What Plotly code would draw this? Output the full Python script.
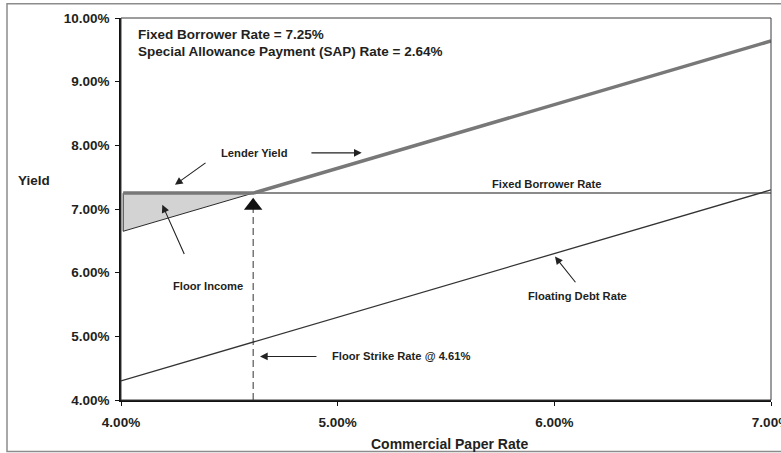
import plotly.graph_objects as go

# ---- data (percent units) ----
fixed_rate = 7.25
sap_rate = 2.64
strike = 4.61

fixed_x = [4.01, 7.0]
fixed_y = [7.25, 7.25]

lender_x = [4.01, 4.61, 7.0]
lender_y = [7.25, 7.25, 9.64]

floor_x = [4.01, 4.01, 4.61]
floor_y = [7.25, 6.65, 7.25]

floating_x = [4.0, 7.0]
floating_y = [4.30, 7.30]

strike_x = [4.61, 4.61]
strike_y = [4.0, 7.0]

marker_x = [4.61]
marker_y = [7.05]

x_ticks = [4, 5, 6, 7]
x_tick_labels = ["4.00%", "5.00%", "6.00%", "7.00%"]
y_ticks = [4, 5, 6, 7, 8, 9, 10]
y_tick_labels = ["4.00%", "5.00%", "6.00%", "7.00%", "8.00%", "9.00%", "10.00%"]

FONT = "Liberation Sans, Arial, Helvetica, sans-serif"
TXT = "#231f20"

fig = go.Figure()

fig.add_trace(go.Scatter(x=fixed_x, y=fixed_y, mode="lines",
                         line=dict(color="#8a8a8a", width=2), hoverinfo="skip"))
fig.add_trace(go.Scatter(x=floor_x, y=floor_y, mode="lines", fill="toself",
                         fillcolor="#d3d3d3", line=dict(color="#2a2a2a", width=1),
                         hoverinfo="skip"))
fig.add_trace(go.Scatter(x=lender_x, y=lender_y, mode="lines",
                         line=dict(color="#787878", width=3.5), hoverinfo="skip"))
fig.add_trace(go.Scatter(x=floating_x, y=floating_y, mode="lines",
                         line=dict(color="#333333", width=1.3), hoverinfo="skip"))
fig.add_trace(go.Scatter(x=strike_x, y=strike_y, mode="lines",
                         line=dict(color="#333333", width=1, dash="7px,4px"), hoverinfo="skip"))
fig.add_trace(go.Scatter(x=marker_x, y=marker_y, mode="markers",
                         marker=dict(symbol="triangle-up", size=16, color="#111111"),
                         hoverinfo="skip"))

ann_font = dict(family=FONT, size=11.2, color=TXT, weight="bold")
big_font = dict(family=FONT, size=13.5, color=TXT, weight="bold")

annotations = [
    dict(x=4.068, y=9.735, text="Fixed Borrower Rate = 7.25%", xanchor="left", font=big_font),
    dict(x=4.068, y=9.474, text="Special Allowance Payment (SAP) Rate = 2.64%", xanchor="left", font=big_font),
    dict(x=4.616, y=7.882, text="Lender Yield", font=ann_font),
    dict(x=4.4015, y=5.783, text="Floor Income", font=ann_font),
    dict(x=5.292, y=4.684, text="Floor Strike Rate @ 4.61%", font=ann_font),
    dict(x=6.108, y=5.637, text="Floating Debt Rate", font=ann_font),
    dict(x=5.966, y=7.391, text="Fixed Borrower Rate", font=ann_font),
]
for a in annotations:
    a.update(xref="x", yref="y", showarrow=False)

arrows = [
    (5.111, 7.882, 4.872, 7.882),
    (4.249, 7.380, 4.397, 7.741),
    (4.1906, 7.066, 4.295, 6.270),
    (4.6415, 4.684, 4.909, 4.684),
    (6.003, 6.254, 6.103, 5.826),
]
for hx, hy, tx, ty in arrows:
    annotations.append(dict(x=hx, y=hy, ax=tx, ay=ty, xref="x", yref="y",
                            axref="x", ayref="y", text="", showarrow=True,
                            arrowhead=2, arrowsize=1.4, arrowwidth=1.1,
                            arrowcolor="#222222"))

annotations.append(dict(x=(34 - 121) / 650, y=7.455, xref="paper", yref="y",
                        xanchor="center", yanchor="middle",
                        text="Yield", showarrow=False,
                        font=dict(family=FONT, size=13.5, color=TXT, weight="bold")))
annotations.append(dict(x=(449 - 121) / 650, y=(400.3 - 444) / 382, xref="paper", yref="paper",
                        xanchor="center", yanchor="middle",
                        text="Commercial Paper Rate", showarrow=False,
                        font=dict(family=FONT, size=14, color=TXT, weight="bold")))

fig.update_layout(
    width=781, height=453,
    margin=dict(l=121, r=10, t=18, b=53),
    paper_bgcolor="white", plot_bgcolor="white",
    showlegend=False,
    annotations=annotations,
    shapes=[
        dict(type="rect", xref="paper", yref="paper", x0=0, x1=1, y0=0, y1=1,
             line=dict(color="#3a3a3a", width=1)),
        dict(type="rect", xref="paper", yref="paper",
             x0=(7 - 121) / 650, x1=1.08,
             y0=(400.3 - 451.7) / 382, y1=(400.3 - 4) / 382,
             line=dict(color="#8c8c8c", width=1.5)),
    ],
)
fig.update_xaxes(range=[4, 7], tickvals=x_ticks, ticktext=x_tick_labels,
                 showgrid=False, zeroline=False, showline=True, linecolor="#111111",
                 linewidth=1.5, ticks="outside", ticklen=4, tickcolor="#111111",
                 tickfont=dict(family=FONT, size=13.5, color=TXT, weight="bold"),
                 ticklabeloverflow="allow", ticklabelstandoff=5, automargin=False)
fig.update_yaxes(range=[4, 10], tickvals=y_ticks, ticktext=y_tick_labels,
                 showgrid=False, zeroline=False, showline=True, linecolor="#111111",
                 linewidth=1.5, ticks="outside", ticklen=4, tickcolor="#111111",
                 tickfont=dict(family=FONT, size=13.5, color=TXT, weight="bold"),
                 ticklabelstandoff=3, automargin=False)

fig.write_html("out.html", config={"displayModeBar": False},
               post_script="document.body.style.margin='0';document.body.style.overflow='hidden';")
